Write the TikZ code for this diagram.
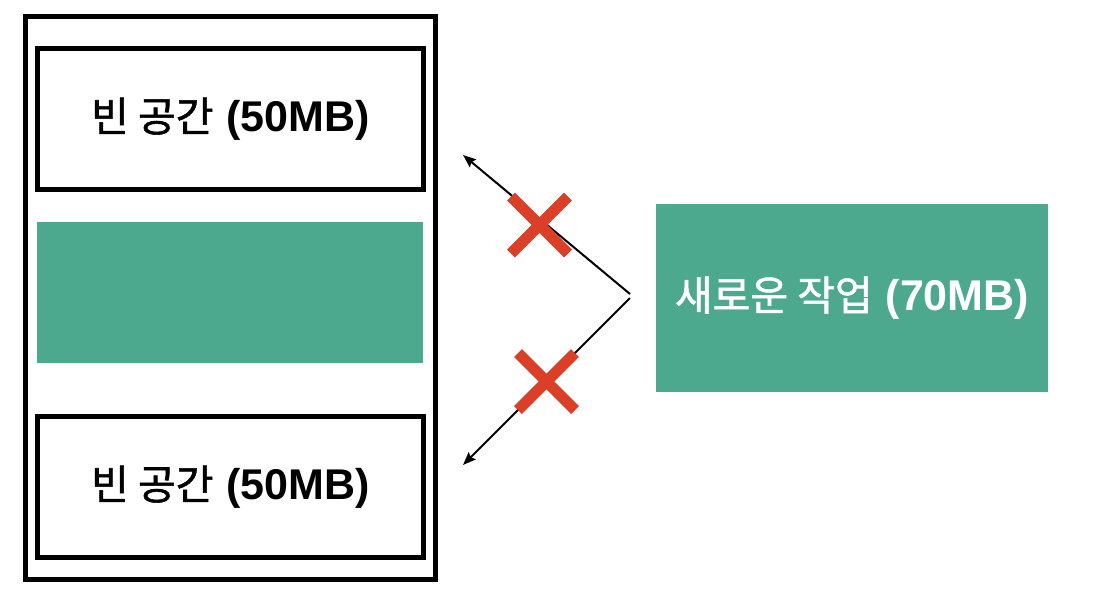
\documentclass[tikz,border=0pt]{standalone}
\usepackage{fontspec}
\setmainfont{Liberation Sans}
\newfontfamily\kr[FakeBold=1.3]{Noto Sans CJK KR}
\usetikzlibrary{arrows.meta}
\definecolor{jobgreen}{RGB}{77,169,142}
\definecolor{crossred}{RGB}{219,63,39}
\newcommand{\kor}[1]{{\kr\fontsize{41}{45}\selectfont #1}}
\newcommand{\lat}[1]{{\bfseries\fontsize{43}{47}\selectfont #1}}
\newcommand{\gap}{\hspace{13pt}}
\tikzset{
  memframe/.style={draw=black, line width=5pt, rectangle, minimum width=409.5pt, minimum height=563pt, inner sep=0pt},
  freebox/.style={draw=black, line width=5pt, rectangle, fill=white, minimum width=386pt, minimum height=141pt, inner sep=0pt},
  usedbox/.style={fill=jobgreen, rectangle, minimum width=386pt, minimum height=141pt, inner sep=0pt},
  jobbox/.style={fill=jobgreen, rectangle, minimum width=392pt, minimum height=188pt, inner sep=0pt, text=white},
  tryarrow/.style={line width=2pt, -{Stealth[length=13pt,width=10pt,inset=2pt]}},
  crossline/.style={draw=crossred, line width=11pt, line cap=butt}
}
\begin{document}
\begin{tikzpicture}[x=1pt,y=-1pt]
\useasboundingbox (0,0) rectangle (1112,590);
\node[memframe] (mem) at (230.25,298) {};
\node[freebox] (free1) at (230.5,119) {\kor{빈 공간}\gap\lat{(50MB)}};
\node[usedbox] (used) at (230,292.5) {};
\node[freebox] (free2) at (230.5,487) {\kor{빈 공간}\gap\lat{(50MB)}};
\node[jobbox] (job) at (852,298) {\kor{새로운 작업}\gap\lat{(70MB)}};
\coordinate (srcA) at (630,294);
\coordinate (srcB) at (630,298);
\coordinate (tipA) at (463,155);
\coordinate (tipB) at (463,465);
\draw[tryarrow] (srcA) -- (tipA);
\draw[tryarrow] (srcB) -- (tipB);
\coordinate (xA) at (539.5,225);
\coordinate (xB) at (546.5,381.5);
\draw[crossline] ([shift={(-28.5,-28.5)}]xA) -- ([shift={(28.5,28.5)}]xA);
\draw[crossline] ([shift={(-28.5,28.5)}]xA) -- ([shift={(28.5,-28.5)}]xA);
\draw[crossline] ([shift={(-28.5,-28.5)}]xB) -- ([shift={(28.5,28.5)}]xB);
\draw[crossline] ([shift={(-28.5,28.5)}]xB) -- ([shift={(28.5,-28.5)}]xB);
\end{tikzpicture}
\end{document}
